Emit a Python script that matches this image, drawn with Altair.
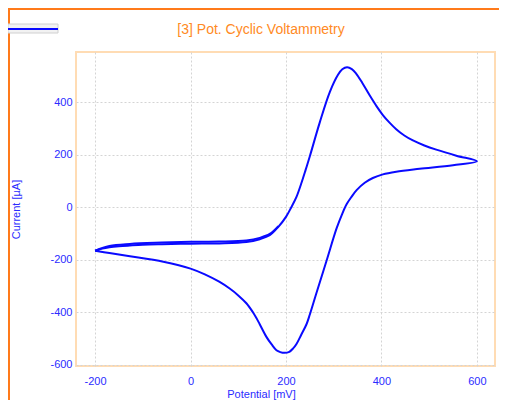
import altair as alt
import pandas as pd

# Forward scan (upper branch), potential in mV, current in µA
fwd_E = [-200, -185, -170, -150, -127, -100, -60, 0, 60, 117, 145, 166, 184, 200, 211, 222, 232, 241, 250,
         271, 292, 309, 318, 328, 338, 347, 360, 375, 390, 403, 417, 431, 448, 466, 490, 515, 557, 600]
fwd_I = [-165, -157, -152, -148, -145, -142, -140, -138, -137, -132, -121, -106, -74, -36, 0, 40, 91, 142, 195,
         325, 440, 505, 526, 534, 527, 510, 474, 428, 385, 352, 323, 298, 274, 255, 236, 220, 197, 176]
# Reverse scan (lower branch)
rev_E = [600, 550, 480, 431, 403, 382, 365, 348, 338, 327, 317, 306, 285, 264, 250, 243, 232, 222, 215, 207,
         197, 188, 180, 170, 159, 145, 138, 131, 117, 100, 82, 60, 30, 0, -57, -127, -170, -200]
rev_I = [176, 161, 147, 136, 126, 112, 94, 66, 42, 12, -28, -80, -203, -325, -408, -445, -485, -520, -537, -550,
         -554, -551, -544, -522, -493, -445, -421, -400, -365, -335, -309, -283, -255, -233, -207, -186, -174, -165]
# Second cycle, slightly offset start of forward scan
cyc2_E = [-200, -170, -127, -60, 0, 60, 117, 145, 166, 184]
cyc2_I = [-165, -147, -139, -134, -131, -130, -126, -116, -101, -71]

x_ticks = [-200, 0, 200, 400, 600]
y_ticks = [-600, -400, -200, 0, 200, 400]

rows = []
k = 0
for e, i in zip(fwd_E + rev_E[1:], fwd_I + rev_I[1:]):
    rows.append({"E": e, "I": i, "k": k, "cycle": "1"})
    k += 1
for e, i in zip(cyc2_E, cyc2_I):
    rows.append({"E": e, "I": i, "k": k, "cycle": "2"})
    k += 1
df = pd.DataFrame(rows)
one = pd.DataFrame({"a": [0]})

BLUE_TXT = "#2b2bff"
ORANGE = "#ff7a1a"
FONT = "Liberation Sans"

x_enc = alt.X("E:Q", scale=alt.Scale(domain=[-240, 638], nice=False, zero=False),
              axis=alt.Axis(values=x_ticks, grid=True, gridColor="#d4d4d4", gridDash=[2, 2],
                            ticks=False, domain=False, labelColor=BLUE_TXT, labelFont=FONT,
                            labelFontSize=11, labelPadding=9, labelExpr="'' + datum.value",
                            title="Potential [mV]",
                            titleColor=BLUE_TXT, titleFont=FONT, titleFontSize=11,
                            titleFontWeight="normal", titleX=185, titleY=28,
                            titleBaseline="middle", titleAlign="center"))
y_enc = alt.Y("I:Q", scale=alt.Scale(domain=[-604, 592], nice=False, zero=False),
              axis=alt.Axis(values=y_ticks, grid=True, gridColor="#d4d4d4", gridDash=[2, 2],
                            ticks=False, domain=False, labelColor=BLUE_TXT, labelFont=FONT,
                            labelFontSize=11, labelPadding=4, labelExpr="'' + datum.value",
                            title="Current [µA]",
                            titleColor=BLUE_TXT, titleFont=FONT, titleFontSize=11,
                            titleFontWeight="normal", titleX=-60, titleY=157, titleAngle=-90,
                            titleBaseline="middle", titleAlign="center"))

line = alt.Chart(df).mark_line(color="#0a0aff", strokeWidth=2, interpolate="catmull-rom").encode(
    x=x_enc, y=y_enc, detail="cycle:N", order="k:Q")

frame_v = alt.Chart(one).mark_rule(color=ORANGE, strokeWidth=2).encode(
    x=alt.value(-67), y=alt.value(-44), y2=alt.value(450))
frame_h = alt.Chart(one).mark_rule(color=ORANGE, strokeWidth=2).encode(
    x=alt.value(-68), x2=alt.value(500), y=alt.value(-43))
leg_box = alt.Chart(one).mark_rect(fill="#f2f2f2", stroke="#d0d0d0", strokeWidth=1).encode(
    x=alt.value(-68), x2=alt.value(-18), y=alt.value(-28), y2=alt.value(-19))
leg_line = alt.Chart(one).mark_rule(color="#0a0aff", strokeWidth=2).encode(
    x=alt.value(-68), x2=alt.value(-18), y=alt.value(-23))
title = alt.Chart(one).mark_text(text="[3] Pot. Cyclic Voltammetry", color="#ff8a24", font=FONT,
                                 fontSize=14, align="center", baseline="middle").encode(
    x=alt.value(185), y=alt.value(-22))

chart = alt.layer(line, frame_v, frame_h, leg_box, leg_line, title).properties(
    width=419, height=314,
    autosize=alt.AutoSizeParams(type="none"),
    padding={"left": 68, "top": 44, "right": 4, "bottom": 34},
).configure_view(stroke="#ffdcb4", strokeWidth=2)

chart.save("out.html", embed_options={"renderer": "svg", "actions": False})
